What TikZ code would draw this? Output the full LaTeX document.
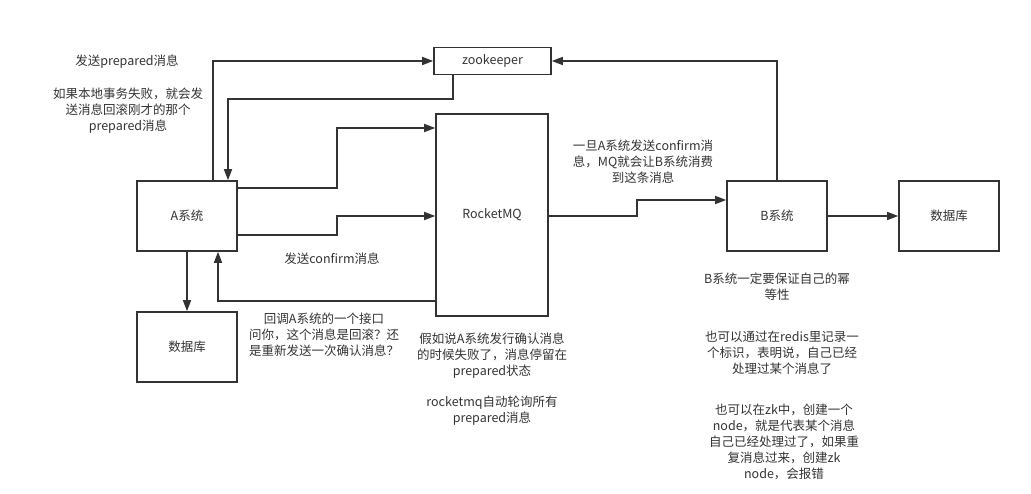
\documentclass[tikz,border=0pt]{standalone}
\usepackage{fontspec}
\newfontfamily\cjk{Noto Sans CJK SC}
\usetikzlibrary{arrows.meta}
\definecolor{ink}{HTML}{333333}
\tikzset{
  box/.style={draw=ink, line width=1.6pt, rectangle, inner sep=0pt, font=\cjk\fontsize{12.5}{16}\selectfont, text=ink},
  arr/.style={draw=ink, line width=1.6pt, -{Triangle[length=11pt,width=8pt]}},
  lbl/.style={font=\cjk\fontsize{12.5}{16}\selectfont, text=ink, align=center, inner sep=0pt}
}
\begin{document}
\begin{tikzpicture}[x=1pt,y=-1pt]
\useasboundingbox (0,0) rectangle (1031,494);
% boxes
\node[box, minimum width=100pt, minimum height=70pt] (A) at (187,216) {A系统};
\node[box, minimum width=100pt, minimum height=70pt] (DBa) at (187,347) {数据库};
\node[box, minimum width=117pt, minimum height=27pt] (zk) at (492.5,61) {zookeeper};
\node[box, minimum width=112pt, minimum height=202pt] (MQ) at (492,215) {};
\node[lbl] (MQt) at (492,215) {RocketMQ};
\node[box, minimum width=100pt, minimum height=70pt] (B) at (777,216) {B系统};
\node[box, minimum width=100pt, minimum height=70pt] (DBb) at (949,216) {数据库};
% bend coordinates
\coordinate (c1) at (213,61);
\coordinate (c2) at (453,99);
\coordinate (c3) at (228,99);
\coordinate (c4) at (337,188);
\coordinate (c5) at (337,128);
\coordinate (c6) at (337,235);
\coordinate (c7) at (337,216);
\coordinate (c8) at (218,301);
\coordinate (c9) at (637,216);
\coordinate (c10) at (637,200);
% connectors
\draw[arr] (A.north -| c1) |- (zk.west);
\draw[arr] (zk.south -| c2) -- (c2) -- (c3) -- (A.north -| c3);
\draw[arr] (A.east |- c4) -- (c4) -- (c5) -- (MQ.west |- c5);
\draw[arr] (A.east |- c6) -- (c6) -- (c7) -- (MQ.west |- c7);
\draw[arr] (MQ.west |- c8) -- (c8) -- (A.south -| c8);
\draw[arr] (A.south) -- (DBa.north);
\draw[arr] (MQ.east |- c9) -- (c9) -- (c10) -- (B.west |- c10);
\draw[arr] (B.north) |- (zk.east);
\draw[arr] (B.east) -- (DBb.west);
% labels
\node[lbl] (t1) at (127,62) {发送prepared消息};
\node[lbl] (t2) at (128,111) {如果本地事务失败，就会发\\送消息回滚刚才的那个\\prepared消息};
\node[lbl] (t3) at (332,259) {发送confirm消息};
\node[lbl] (t4) at (324,335) {回调A系统的一个接口\\问你，这个消息是回滚？还\\是重新发送一次确认消息？};
\node[lbl] (t5) at (492,356) {假如说A系统发行确认消息\\的时候失败了，消息停留在\\prepared状态};
\node[lbl] (t6) at (492,411) {rocketmq自动轮询所有\\prepared消息};
\node[lbl] (t7) at (643,162) {一旦A系统发送confirm消\\息，MQ就会让B系统消费\\到这条消息};
\node[lbl] (t8) at (777,287) {B系统一定要保证自己的幂\\等性};
\node[lbl] (t9) at (782,353) {也可以通过在redis里记录一\\个标识，表明说，自己已经\\处理过某个消息了};
\node[lbl] (t10) at (784,442) {也可以在zk中，创建一个\\node，就是代表某个消息\\自己已经处理过了，如果重\\复消息过来，创建zk\\node，会报错};
\end{tikzpicture}
\end{document}
